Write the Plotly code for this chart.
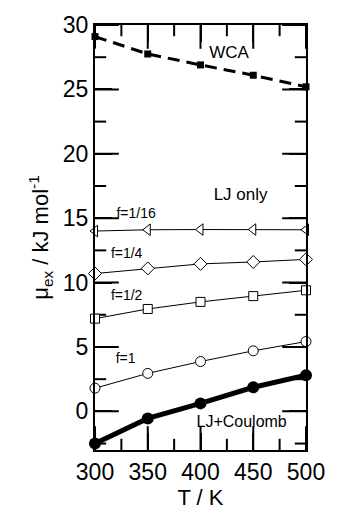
import plotly.graph_objects as go

T = [300, 350, 400, 450, 500]
wca = [29.1, 27.75, 26.9, 26.1, 25.2]
f16 = [14.0, 14.1, 14.12, 14.12, 14.1]
f4 = [10.7, 11.1, 11.45, 11.6, 11.8]
f2 = [7.2, 7.95, 8.5, 8.95, 9.4]
f1 = [1.8, 2.95, 3.87, 4.7, 5.42]
ljc = [-2.5, -0.55, 0.62, 1.87, 2.8]

label_text = ["WCA", "LJ only", "f=1/16", "f=1/4", "f=1/2", "f=1", "LJ+Coulomb"]
label_x = [427, 438, 339, 330, 330, 329, 439]
label_y = [27.75, 16.75, 15.3, 12.15, 8.95, 4.0, -0.9]
label_size = [17, 17, 14, 14, 14, 14, 16]

x_major = [300, 350, 400, 450, 500]
x_minor = [325, 375, 425, 475]
y_major = [0, 5, 10, 15, 20, 25, 30]
y_minor = [-2.5, 2.5, 7.5, 12.5, 17.5, 22.5, 27.5]

FONT = "Liberation Sans, Arial, Helvetica, sans-serif"
XR = [300, 500]
YR = [-3, 30]

fig = go.Figure()

def tick_marks(xs, ys, symbol, size):
    fig.add_trace(go.Scatter(x=xs, y=ys, mode="markers", hoverinfo="skip",
        cliponaxis=True,
        marker=dict(symbol=symbol, size=size, color="black",
                    line=dict(color="black", width=2))))

for yv in YR:
    tick_marks(x_major, [yv] * len(x_major), "line-ns", 34)
    tick_marks(x_minor, [yv] * len(x_minor), "line-ns", 16)
for xv in XR:
    tick_marks([xv] * len(y_major), y_major, "line-ew", 34)
    tick_marks([xv] * len(y_minor), y_minor, "line-ew", 16)

fig.add_trace(go.Scatter(x=T, y=wca, mode="lines+markers",
    line=dict(color="black", width=3, dash="12px,7px"),
    marker=dict(symbol="square", size=7, color="black"), cliponaxis=False))

def open_series(y, sym, size):
    fig.add_trace(go.Scatter(x=T, y=y, mode="lines+markers",
        line=dict(color="black", width=1),
        marker=dict(symbol=sym, size=size, color="white",
                    line=dict(color="black", width=1)), cliponaxis=False))

open_series(f16, "triangle-left", 10)
open_series(f4, "diamond", 10)
open_series(f2, "square", 9)
open_series(f1, "circle", 10)

fig.add_trace(go.Scatter(x=T, y=ljc, mode="lines+markers",
    line=dict(color="black", width=5),
    marker=dict(symbol="circle", size=12, color="black"), cliponaxis=False))

# in-plot labels as a text trace
fig.add_trace(go.Scatter(x=label_x, y=label_y, mode="text", text=label_text,
    textposition="middle center", hoverinfo="skip", cliponaxis=False,
    textfont=dict(family=FONT, size=label_size, color="black")))

axis_common = dict(
    showgrid=False, zeroline=False, showline=True, linecolor="black",
    linewidth=2, mirror="allticks", ticks="inside", tickcolor="black",
    tickwidth=2, ticklen=17, tickfont=dict(family=FONT, size=23, color="black"),
)

fig.update_layout(
    width=337, height=514, showlegend=False,
    margin=dict(l=95, r=22, t=20, b=54),
    plot_bgcolor="white", paper_bgcolor="white",
    xaxis=dict(range=XR, tickvals=x_major,
        title=dict(text="T / K", font=dict(family=FONT, size=22, color="black"), standoff=2),
        **axis_common),
    yaxis=dict(range=YR, tickvals=y_major,
        title=dict(text="μ<sub>ex</sub> / kJ mol<sup>-1</sup>",
                   font=dict(family=FONT, size=22, color="black"), standoff=8),
        **axis_common),
)

fig.write_html("out.html")
